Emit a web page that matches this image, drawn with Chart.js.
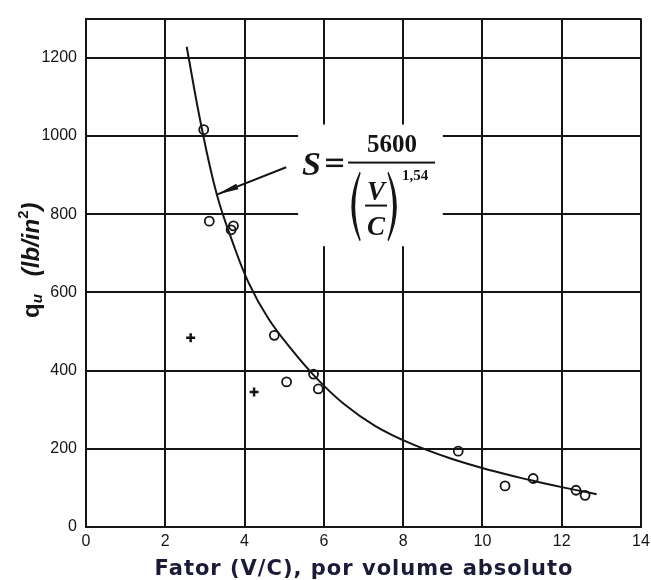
<!DOCTYPE html>
<html>
<head>
<meta charset="utf-8">
<script src="https://cdn.jsdelivr.net/npm/chart.js@4.4.1/dist/chart.umd.min.js"></script>
<style>
  body { margin: 0; background: #fff; }
  canvas { display: block; }
</style>
</head>
<body>
<canvas id="myChart" width="651" height="580"></canvas>
<script>
// data
const xTicks = [0, 2, 4, 6, 8, 10, 12, 14];
const yTicks = [0, 200, 400, 600, 800, 1000, 1200];
const yMax = 1300;

const vcCircle = [2.97, 3.11, 3.66, 3.72, 4.75, 5.06, 5.74, 5.86, 9.39, 10.57, 11.28, 12.36, 12.59];
const quCircle = [1016, 782, 760, 770, 490, 371, 391, 353, 194, 105, 124, 94, 81];

const vcCross = [2.64, 4.24];
const quCross = [484, 345];

// points picked along the drawn curve
const vcCurve = [2.54, 2.9, 3.3, 3.7, 4.1, 4.6, 5.2, 5.8, 6.5, 7.3, 8.2, 9.2, 10.2, 11.2, 12.0, 12.88];
const quCurve = [1228, 1030, 850, 728, 625, 533, 452, 382, 315, 258, 213, 175, 145, 120, 102, 84];

const xTitle = 'Fator (V/C), por volume absoluto';

const ink = '#151515';
const pts = (xs, ys) => xs.map((x, i) => ({x: x, y: ys[i]}));

//equation + arrow + axis titles
const extras = {
  id: 'extras',
  beforeDatasetsDraw(chart) {
    const c = chart.ctx, sx = chart.scales.x, sy = chart.scales.y;
    // white patch behind the formula
    const L = sx.getPixelForValue(5.35), R = sx.getPixelForValue(9.0);
    const T = sy.getPixelForValue(1029), B = sy.getPixelForValue(718);
    c.save();
    c.fillStyle = '#fff';
    c.fillRect(L, T, R - L, B - T);
    c.fillStyle = ink;
    c.strokeStyle = ink;
    c.textBaseline = 'alphabetic';

    c.font = 'italic bold 34px "Liberation Serif", serif';
    c.textAlign = 'left';
    c.fillText('S', L + 4, T + 50);
    // equals sign
    c.fillRect(L + 28, T + 34, 17, 2.5);
    c.fillRect(L + 28, T + 40, 17, 2.5);
    // fraction bar
    c.fillRect(L + 50, T + 37, 87, 2);
    c.font = 'bold 25px "Liberation Serif", serif';
    c.textAlign = 'center';
    c.fillText('5600', L + 94, T + 27);
    // (V/C)
    c.font = 'italic bold 27px "Liberation Serif", serif';
    c.fillText('V', L + 78, T + 75);
    c.fillText('C', L + 78, T + 110);
    c.fillRect(L + 67, T + 80, 22, 2);
    const paren = (x0, bulge) => {
      c.beginPath();
      c.moveTo(x0, T + 48);
      c.quadraticCurveTo(x0 + bulge, T + 82, x0, T + 116);
      c.quadraticCurveTo(x0 + bulge * 0.7, T + 82, x0, T + 48);
      c.fill();
      c.lineWidth = 1.4;
      c.stroke();
    };
    paren(L + 62, -16);
    paren(L + 90, 16);
    c.font = 'bold 15px "Liberation Serif", serif';
    c.textAlign = 'left';
    c.fillText('1,54', L + 104, T + 55);

    // arrow from formula to curve
    const ax = sx.getPixelForValue(5.05), ay = sy.getPixelForValue(920);
    const bx = sx.getPixelForValue(3.30), by = sy.getPixelForValue(850);
    c.lineWidth = 2;
    c.beginPath();
    c.moveTo(ax, ay);
    c.lineTo(bx, by);
    c.stroke();
    const ang = Math.atan2(by - ay, bx - ax);
    c.beginPath();
    c.moveTo(bx, by);
    c.lineTo(bx - 22 * Math.cos(ang) - 3 * Math.sin(ang), by - 22 * Math.sin(ang) + 3 * Math.cos(ang));
    c.lineTo(bx - 22 * Math.cos(ang) + 3 * Math.sin(ang), by - 22 * Math.sin(ang) - 3 * Math.cos(ang));
    c.closePath();
    c.fill();
    c.restore();
  },
  afterDraw(chart) {
    const c = chart.ctx;
    c.save();
    // x title
    c.fillStyle = '#1b1b38';
    c.font = 'bold 21px "DejaVu Sans", sans-serif';
    c.letterSpacing = '1px';
    c.textAlign = 'center';
    c.textBaseline = 'alphabetic';
    c.fillText(xTitle, 364, 575);
    c.letterSpacing = '0px';

    // y title, rotated: q_u (lb/in^2)
    c.fillStyle = ink;
    c.translate(39, 318);
    c.rotate(-Math.PI / 2);
    c.textAlign = 'left';
    let x = 0;
    const put = (txt, font, dy) => {
      c.font = font;
      c.fillText(txt, x, dy);
      x += c.measureText(txt).width;
    };
    put('q', 'bold 24px "Liberation Sans", sans-serif', 0);
    put('u', 'italic bold 15px "Liberation Sans", sans-serif', 3);
    x += 18;
    put('(lb/in', 'italic bold 24px "Liberation Sans", sans-serif', 0);
    put('2', 'bold 15px "Liberation Sans", sans-serif', -11);
    put(')', 'italic bold 24px "Liberation Sans", sans-serif', 0);
    c.restore();
  }
};

const ctx = document.getElementById('myChart');
const myChart = new Chart(ctx, {
  type: 'scatter',
  data: {
    datasets: [{
      type: 'line',
      data: pts(vcCurve, quCurve),
      showLine: true,
      borderColor: ink,
      borderWidth: 2,
      pointRadius: 0,
      fill: false,
      tension: 0.4
    }, {
      data: pts(vcCircle, quCircle),
      pointStyle: 'circle',
      pointRadius: 4.5,
      borderWidth: 1.8,
      borderColor: ink,
      backgroundColor: 'rgba(0,0,0,0)'
    }, {
      data: pts(vcCross, quCross),
      pointStyle: 'cross',
      pointRadius: 4.5,
      borderWidth: 2.5,
      borderColor: ink
    }]
  },
  options: {
    responsive: false,
    animation: false,
    layout: { padding: { top: 16, right: 10, left: 0, bottom: 0 } },
    plugins: { legend: { display: false }, tooltip: { enabled: false } },
    scales: {
      x: {
        type: 'linear',
        min: 0,
        max: 14,
        afterBuildTicks: s => { s.ticks = xTicks.map(v => ({value: v})); },
        afterFit: s => { s.height = 53; s.paddingLeft = 0; s.paddingRight = 0; },
        grid: { color: ink, lineWidth: 2, drawTicks: false },
        border: { color: ink, width: 2 },
        ticks: {
          padding: 5,
          autoSkip: false,
          maxRotation: 0,
          color: ink,
          font: { family: '"Liberation Sans Narrow", "Liberation Sans", sans-serif', size: 16 }
        }
      },
      y: {
        min: 0,
        max: yMax,
        afterBuildTicks: s => { s.ticks = yTicks.concat([yMax]).map(v => ({value: v})); },
        afterFit: s => { s.width = 86; },
        grid: { color: ink, lineWidth: 2, drawTicks: false },
        border: { color: ink, width: 2 },
        ticks: {
          padding: 9,
          autoSkip: false,
          color: ink,
          font: { family: '"Liberation Sans Narrow", "Liberation Sans", sans-serif', size: 16 },
          callback: v => (v === yMax ? '' : v)
        }
      }
    }
  },
  plugins: [extras]
});
</script>
</body>
</html>
